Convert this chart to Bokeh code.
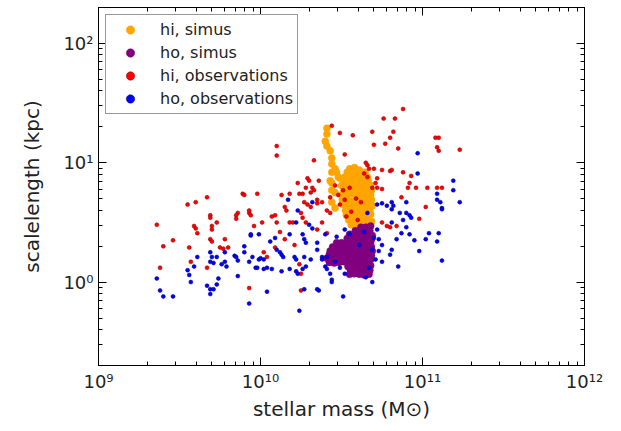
from bokeh.plotting import figure
from bokeh.models import (LogAxis, LogTicker, CustomJSTickFormatter, Legend,
                          LegendItem, Range1d, ColumnDataSource)
from bokeh.embed import file_html
from bokeh.resources import INLINE

# Values: (log10 stellar mass [Msun], log10 scalelength [kpc])
hi_simus = [
    (10.41, 1.29), (10.41, 1.24), (10.40, 1.18), (10.41, 1.14), (10.43, 1.10), (10.44, 1.04),
    (10.44, 0.99), (10.46, 0.95), (10.47, 0.92), (10.44, 0.92), (10.48, 0.88), (10.43, 0.85),
    (10.44, 0.83), (10.49, 0.87), (10.44, 0.77), (10.46, 0.75), (10.44, 0.67), (10.46, 0.62),
    (10.55, 0.95), (10.58, 0.96), (10.61, 0.94),
    (10.535, 0.92), (10.565, 0.91), (10.595, 0.92), (10.625, 0.91), (10.645, 0.92),
    (10.52, 0.88), (10.55, 0.88), (10.58, 0.89), (10.61, 0.88), (10.64, 0.87), (10.66, 0.88),
    (10.515, 0.85), (10.545, 0.84), (10.575, 0.85), (10.605, 0.85), (10.635, 0.84), (10.665, 0.85),
    (10.50, 0.81), (10.53, 0.81), (10.56, 0.80), (10.59, 0.81), (10.62, 0.81), (10.65, 0.82), (10.68, 0.81),
    (10.515, 0.77), (10.545, 0.77), (10.575, 0.76), (10.605, 0.77), (10.635, 0.77), (10.665, 0.78), (10.685, 0.77),
    (10.50, 0.73), (10.53, 0.73), (10.56, 0.74), (10.59, 0.73), (10.62, 0.72), (10.65, 0.73), (10.68, 0.73),
    (10.505, 0.69), (10.535, 0.69), (10.565, 0.68), (10.595, 0.69), (10.625, 0.69), (10.655, 0.70), (10.685, 0.69),
    (10.51, 0.65), (10.54, 0.65), (10.57, 0.64), (10.60, 0.65), (10.63, 0.65), (10.66, 0.65), (10.69, 0.64),
    (10.525, 0.60), (10.555, 0.61), (10.585, 0.60), (10.615, 0.60), (10.645, 0.61), (10.675, 0.60),
    (10.53, 0.56), (10.56, 0.56), (10.59, 0.55), (10.62, 0.56), (10.65, 0.56), (10.68, 0.57),
    (10.545, 0.52), (10.575, 0.52), (10.605, 0.53), (10.635, 0.52), (10.665, 0.52), (10.685, 0.51),
    (10.56, 0.48), (10.59, 0.48), (10.62, 0.47), (10.65, 0.48), (10.68, 0.48),
]

ho_simus = [
    (10.62, 0.46), (10.65, 0.46), (10.68, 0.47),
    (10.585, 0.43), (10.615, 0.43), (10.645, 0.42), (10.675, 0.43),
    (10.55, 0.40), (10.58, 0.40), (10.61, 0.39), (10.64, 0.40), (10.67, 0.40), (10.69, 0.39),
    (10.535, 0.365), (10.565, 0.36), (10.595, 0.365), (10.625, 0.37), (10.655, 0.365), (10.685, 0.36),
    (10.47, 0.33), (10.50, 0.33), (10.53, 0.32), (10.56, 0.33), (10.59, 0.33), (10.62, 0.34), (10.65, 0.33), (10.68, 0.33),
    (10.445, 0.295), (10.475, 0.29), (10.505, 0.295), (10.535, 0.30), (10.565, 0.295), (10.595, 0.29),
    (10.625, 0.295), (10.655, 0.30), (10.685, 0.295),
    (10.43, 0.26), (10.46, 0.26), (10.49, 0.25), (10.52, 0.26), (10.55, 0.26), (10.58, 0.27),
    (10.61, 0.26), (10.64, 0.26), (10.67, 0.25), (10.69, 0.26),
    (10.425, 0.23), (10.455, 0.23), (10.485, 0.22), (10.515, 0.23), (10.545, 0.23), (10.575, 0.23),
    (10.605, 0.24), (10.635, 0.23), (10.665, 0.23), (10.685, 0.22),
    (10.41, 0.20), (10.44, 0.20), (10.47, 0.19), (10.50, 0.20), (10.53, 0.20), (10.56, 0.20),
    (10.59, 0.21), (10.62, 0.20), (10.65, 0.20), (10.68, 0.19),
    (10.425, 0.165), (10.455, 0.16), (10.485, 0.165), (10.515, 0.17), (10.545, 0.165), (10.575, 0.16),
    (10.605, 0.165), (10.635, 0.165), (10.665, 0.17),
    (10.54, 0.13), (10.57, 0.13), (10.60, 0.12), (10.63, 0.13), (10.66, 0.13), (10.68, 0.14),
    (10.555, 0.10), (10.585, 0.10), (10.615, 0.09), (10.645, 0.10), (10.675, 0.10),
    (10.55, 0.066), (10.58, 0.07), (10.61, 0.066), (10.64, 0.06), (10.67, 0.066),
]

hi_observations = [
    (9.36, 0.48), (9.40, 0.30), (9.38, 0.12), (9.46, 0.35), (9.55, 0.65), (9.60, 0.67),
    (9.67, 0.71), (9.59, 0.47), (9.60, 0.45), (9.61, 0.41), (9.56, 0.29), (9.57, 0.17),
    (9.69, 0.56), (9.69, 0.54), (9.70, 0.47), (9.70, 0.44), (9.73, 0.50), (9.69, 0.36),
    (9.70, 0.34), (9.75, 0.29), (9.77, 0.28), (9.78, 0.36), (9.80, 0.29), (9.67, 0.12),
    (9.89, 0.74), (9.90, 0.73), (9.86, 0.58), (9.85, 0.56), (9.85, 0.53), (9.93, 0.58),
    (9.94, 0.56), (9.93, 0.60), (9.96, 0.47), (9.98, 0.74), (9.93, -0.05), (10.25, -0.07),
    (10.13, 0.73), (10.18, 0.74), (10.24, 0.74), (10.27, 0.67), (10.29, 0.65), (10.31, 0.75),
    (10.35, 0.66), (10.38, 0.67), (10.01, 0.50), (10.07, 0.55), (10.09, 0.56), (10.10, 0.50),
    (10.12, 0.42), (10.16, 0.60), (10.18, 0.50), (10.20, 0.50), (10.25, 0.58), (10.26, 0.54),
    (10.28, 0.50), (10.31, 0.63), (10.02, 0.25), (10.04, 0.21), (10.21, 0.31), (10.25, 0.07),
    (10.24, 0.15), (10.41, 0.60), (10.43, 0.58), (10.35, 0.69), (10.41, 0.41), (10.15, 0.63),
    (10.44, 1.31), (10.49, 1.25), (10.10, 1.14), (10.10, 1.06), (10.33, 1.02), (10.52, 1.07),
    (10.23, 0.83), (10.29, 0.87), (10.30, 0.85), (10.28, 0.79), (10.32, 0.79), (10.33, 0.77),
    (10.36, 0.85), (10.26, 0.74), (10.57, 1.23), (10.88, 1.45), (10.76, 1.37), (10.83, 1.37),
    (10.69, 1.26), (10.82, 1.26), (10.80, 1.21), (10.70, 1.15), (10.77, 1.16), (10.85, 1.12),
    (11.08, 1.21), (11.10, 1.21), (11.09, 1.13), (11.10, 1.10), (10.65, 1.00), (10.66, 0.98),
    (10.64, 0.91), (10.67, 0.95), (10.70, 0.95), (10.75, 0.94), (10.80, 0.93), (10.81, 0.94),
    (10.88, 0.92), (10.93, 0.89), (10.66, 0.88), (10.72, 0.87), (10.71, 0.83), (10.69, 0.79),
    (10.72, 0.79), (10.75, 0.78), (10.92, 0.83), (10.91, 0.79), (10.96, 0.79), (11.03, 0.79),
    (11.09, 0.79), (11.12, 0.79), (11.02, 0.63), (10.87, 0.71), (10.75, 0.50), (10.78, 0.47),
    (10.80, 0.46), (10.84, 0.47), (10.98, 0.53), (11.23, 1.11),
    (10.51, 0.77), (10.48, 0.73), (10.52, 0.69), (10.49, 0.65), (10.55, 0.79), (10.59, 0.70),
    (10.62, 0.67), (10.56, 0.59), (10.53, 0.55), (10.60, 0.52), (10.46, 0.81), (10.43, 0.71),
    (10.38, 0.50), (10.35, 0.44), (10.15, 0.36), (10.09, 0.29),
]

ho_observations = [
    (9.36, 0.03), (9.38, -0.07), (9.40, -0.12), (9.46, -0.12), (9.55, 0.10), (9.56, 0.06),
    (9.57, 0.00), (9.61, 0.21), (9.59, 0.13), (9.69, 0.25), (9.70, 0.21), (9.69, 0.17),
    (9.71, 0.16), (9.67, -0.03), (9.69, -0.06), (9.69, -0.10), (9.71, -0.06), (9.73, -0.02),
    (9.74, 0.03), (9.73, 0.21), (9.76, 0.15), (9.78, 0.17), (9.79, 0.13), (9.78, 0.25),
    (9.84, 0.22), (9.85, 0.21), (9.86, 0.18), (9.86, 0.05), (9.90, 0.30), (9.90, 0.25),
    (9.94, 0.39), (9.93, 0.17), (9.95, 0.21), (9.97, 0.12), (9.93, -0.18), (9.99, 0.19),
    (10.17, 0.69), (10.22, 0.50), (10.30, 0.48), (10.32, 0.45), (10.26, 0.40), (10.27, 0.36),
    (10.28, 0.33), (10.18, 0.40), (10.09, 0.37), (10.06, 0.34), (9.99, 0.40), (9.94, 0.40),
    (10.00, 0.20), (10.02, 0.19), (10.10, 0.27), (10.12, 0.25), (10.13, 0.23), (10.14, 0.21),
    (10.21, 0.21), (10.22, 0.19), (10.27, 0.21), (10.31, 0.19), (9.98, 0.12), (10.02, 0.11),
    (10.04, 0.12), (10.07, 0.11), (10.13, 0.09), (10.18, 0.11), (10.22, 0.09), (10.23, 0.07),
    (10.26, 0.11), (10.28, 0.13), (10.35, 0.27), (10.38, 0.21), (10.38, 0.19), (10.40, 0.13),
    (10.41, 0.11), (10.43, 0.07), (10.44, 0.02), (10.44, 0.00), (10.36, -0.07), (10.51, -0.12),
    (10.04, -0.08), (10.24, -0.24), (10.35, 0.33), (10.40, 0.40), (10.47, 0.38), (11.19, 0.85),
    (11.19, 0.77), (11.23, 0.67), (10.97, 0.91), (11.09, 0.74), (11.09, 0.69), (11.11, 0.67),
    (11.12, 0.62), (11.12, 0.61), (10.72, 0.65), (10.75, 0.66), (10.78, 0.64), (10.81, 0.67),
    (10.82, 0.64), (10.90, 0.67), (10.81, 0.61), (10.86, 0.58), (10.90, 0.58), (10.92, 0.56),
    (10.88, 0.52), (10.93, 0.54), (10.81, 0.50), (10.90, 0.46), (10.87, 0.41), (10.92, 0.40),
    (11.04, 0.41), (11.10, 0.41), (10.84, 0.36), (10.95, 0.35), (11.02, 0.36), (11.09, 0.34),
    (10.98, 0.26), (10.81, 0.27), (10.80, 0.23), (10.75, 0.31), (10.73, 0.26), (10.75, 0.17),
    (10.85, 0.13), (11.12, 0.18), (10.65, 0.04), (10.69, 0.00), (10.97, 1.08), (10.66, 0.58),
    (10.32, 0.67), (10.23, 0.60),
    (10.52, 0.44), (10.55, 0.40), (10.70, 0.37), (10.69, 0.27), (10.71, 0.19), (10.67, 0.12),
    (10.49, 0.12), (10.46, 0.17), (10.41, 0.21), (10.52, 0.07), (10.61, 0.31), (10.64, 0.42),
    (10.72, 0.44), (10.73, 0.36), (10.35, -0.06), (10.27, -0.06),
]

labels = ["hi, simus", "ho, simus", "hi, observations", "ho, observations"]


def source(pairs):
    return ColumnDataSource(dict(mass=[10 ** a for a, b in pairs],
                                 scalelength=[10 ** b for a, b in pairs]))


p = figure(width=605, height=423, x_axis_type="log", y_axis_type="log",
           x_range=Range1d(1e9, 1e12), y_range=Range1d(0.2, 200),
           output_backend="svg", toolbar_location=None,
           min_border_left=98, min_border_right=21, min_border_top=7, min_border_bottom=56)
p.grid.visible = False
p.outline_line_color = "black"
p.outline_line_width = 1
p.background_fill_color = "white"
p.border_fill_color = "white"

sup_code = """
const sup = {"0":"\u2070","1":"\u00b9","2":"\u00b2","3":"\u00b3","4":"\u2074","5":"\u2075",
             "6":"\u2076","7":"\u2077","8":"\u2078","9":"\u2079","-":"\u207b"};
const e = Math.round(Math.log10(tick));
return "10" + String(e).split("").map(c => sup[c]).join("");
"""
fmt = CustomJSTickFormatter(code=sup_code)
blank = CustomJSTickFormatter(code="return '';")

def style_axis(ax, labelled=True):
    ax.ticker = LogTicker(mantissas=[1], num_minor_ticks=10)
    ax.major_tick_in = 8
    ax.major_tick_out = 0
    ax.minor_tick_in = 4
    ax.minor_tick_out = 0
    ax.major_tick_line_color = "black"
    ax.minor_tick_line_color = "black"
    ax.axis_line_color = "black"
    ax.major_label_text_font = "DejaVu Sans"
    ax.major_label_text_font_size = "18px"
    ax.major_label_text_color = "#222222"
    ax.axis_label_text_font = "DejaVu Sans"
    ax.axis_label_text_font_size = "20px"
    ax.axis_label_text_font_style = "normal"
    ax.axis_label_text_color = "#222222"
    if labelled:
        ax.formatter = fmt
        ax.major_label_standoff = 5
    else:
        ax.formatter = blank
        ax.major_label_standoff = 0
        ax.major_label_text_font_size = "0px"

style_axis(p.xaxis[0])
style_axis(p.yaxis[0])
p.xaxis[0].axis_label = "stellar mass (M\u2299)"
p.xaxis[0].axis_label_standoff = 2
p.yaxis[0].axis_label = "scalelength (kpc)"
p.yaxis[0].axis_label_standoff = 16

top = LogAxis()
style_axis(top, labelled=False)
right = LogAxis()
style_axis(right, labelled=False)
p.add_layout(top, "above")
p.add_layout(right, "right")

r1 = p.scatter("mass", "scalelength", source=source(hi_simus), size=7,
               fill_color="orange", line_color="orange", line_width=0.5)
r2 = p.scatter("mass", "scalelength", source=source(ho_simus), size=7,
               fill_color="purple", line_color="purple", line_width=0.5)
r3 = p.scatter("mass", "scalelength", source=source(hi_observations), size=4,
               fill_color="red", line_color="#900000", line_width=0.5)
r4 = p.scatter("mass", "scalelength", source=source(ho_observations), size=4,
               fill_color="blue", line_color="#000080", line_width=0.5)

legend = Legend(items=[LegendItem(label=labels[0], renderers=[r1]),
                       LegendItem(label=labels[1], renderers=[r2]),
                       LegendItem(label=labels[2], renderers=[r3]),
                       LegendItem(label=labels[3], renderers=[r4])],
                location="top_left")
legend.border_line_color = "#333333"
legend.border_line_width = 1
legend.background_fill_color = "white"
legend.background_fill_alpha = 1
legend.label_text_font = "DejaVu Sans"
legend.label_text_font_size = "16px"
legend.label_text_color = "#222222"
legend.glyph_width = 40
legend.glyph_height = 21
legend.label_height = 21
legend.spacing = 2
legend.padding = 4
legend.margin = 7
legend.label_standoff = 10
p.add_layout(legend)

open("out.html", "w").write(file_html(p, INLINE))
